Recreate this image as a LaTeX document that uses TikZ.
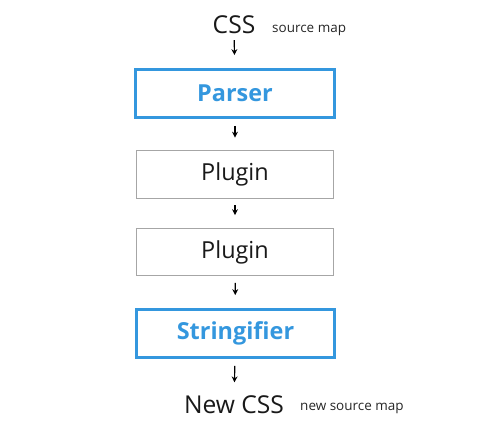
\documentclass[tikz,border=0pt]{standalone}
\usepackage{fontspec}
\setmainfont{Open Sans}
\usepackage{tikz}
\usetikzlibrary{arrows.meta, positioning}

\definecolor{stageblue}{HTML}{3497DE}

\begin{document}
\begin{tikzpicture}[x=0.03cm, y=-0.03cm]
        % Setup the styles for the stages
        \tikzset{box style/.style={draw=gray!70,
                                    line width=1pt,
                                    minimum width=5.9cm,
                                    minimum height=1.42cm,
                                    text=black!90,
                                    font=\fontsize{20}{24}\selectfont}}
        \tikzset{box style2/.style={box style,
                                    draw=stageblue,
                                    line width=2.8pt,
                                    minimum width=5.95cm,
                                    minimum height=1.45cm,
                                    text=stageblue,
                                    font=\fontsize{20}{24}\selectfont\bfseries}}
        \tikzset{text style/.style={inner sep=0pt,
                                    text=black!90,
                                    font=\fontsize{21}{25}\selectfont}}
        \tikzset{note style/.style={inner sep=0pt,
                                    text=black!85,
                                    font=\fontsize{11.5}{14}\selectfont}}
        \tikzset{flow arrow/.style={line width=1pt,
                                    -{Stealth[length=5pt,width=5pt]},
                                    shorten <=0.2cm,
                                    shorten >=0.38cm}}

        \useasboundingbox (0,0) rectangle (482,435);

        % Draw the stages
        \node[text style, anchor=base] at (234,33) (css) {CSS};
        \node[note style, anchor=base west] at (272,32) (map) {source map};
        \node[box style2] at (235,93.5) (parser) {Parser};
        \node[box style] at (235,174.5) (plugin1) {Plugin};
        \node[box style] at (235,252) (plugin2) {Plugin};
        \node[box style2] at (235.5,333.5) (stringifier) {Stringifier};
        \node[text style, anchor=base] at (234,413) (newcss) {New CSS};
        \node[note style, anchor=base west] at (300,410) (newmap) {new source map};

        % Connect the stages with arrows
        \draw[flow arrow] (css) -- (parser);
        \draw[flow arrow] (parser) -- (plugin1);
        \draw[flow arrow] (plugin1) -- (plugin2);
        \draw[flow arrow] (plugin2) -- (stringifier);
        \draw[flow arrow] (stringifier) -- (newcss);
\end{tikzpicture}
\end{document}
